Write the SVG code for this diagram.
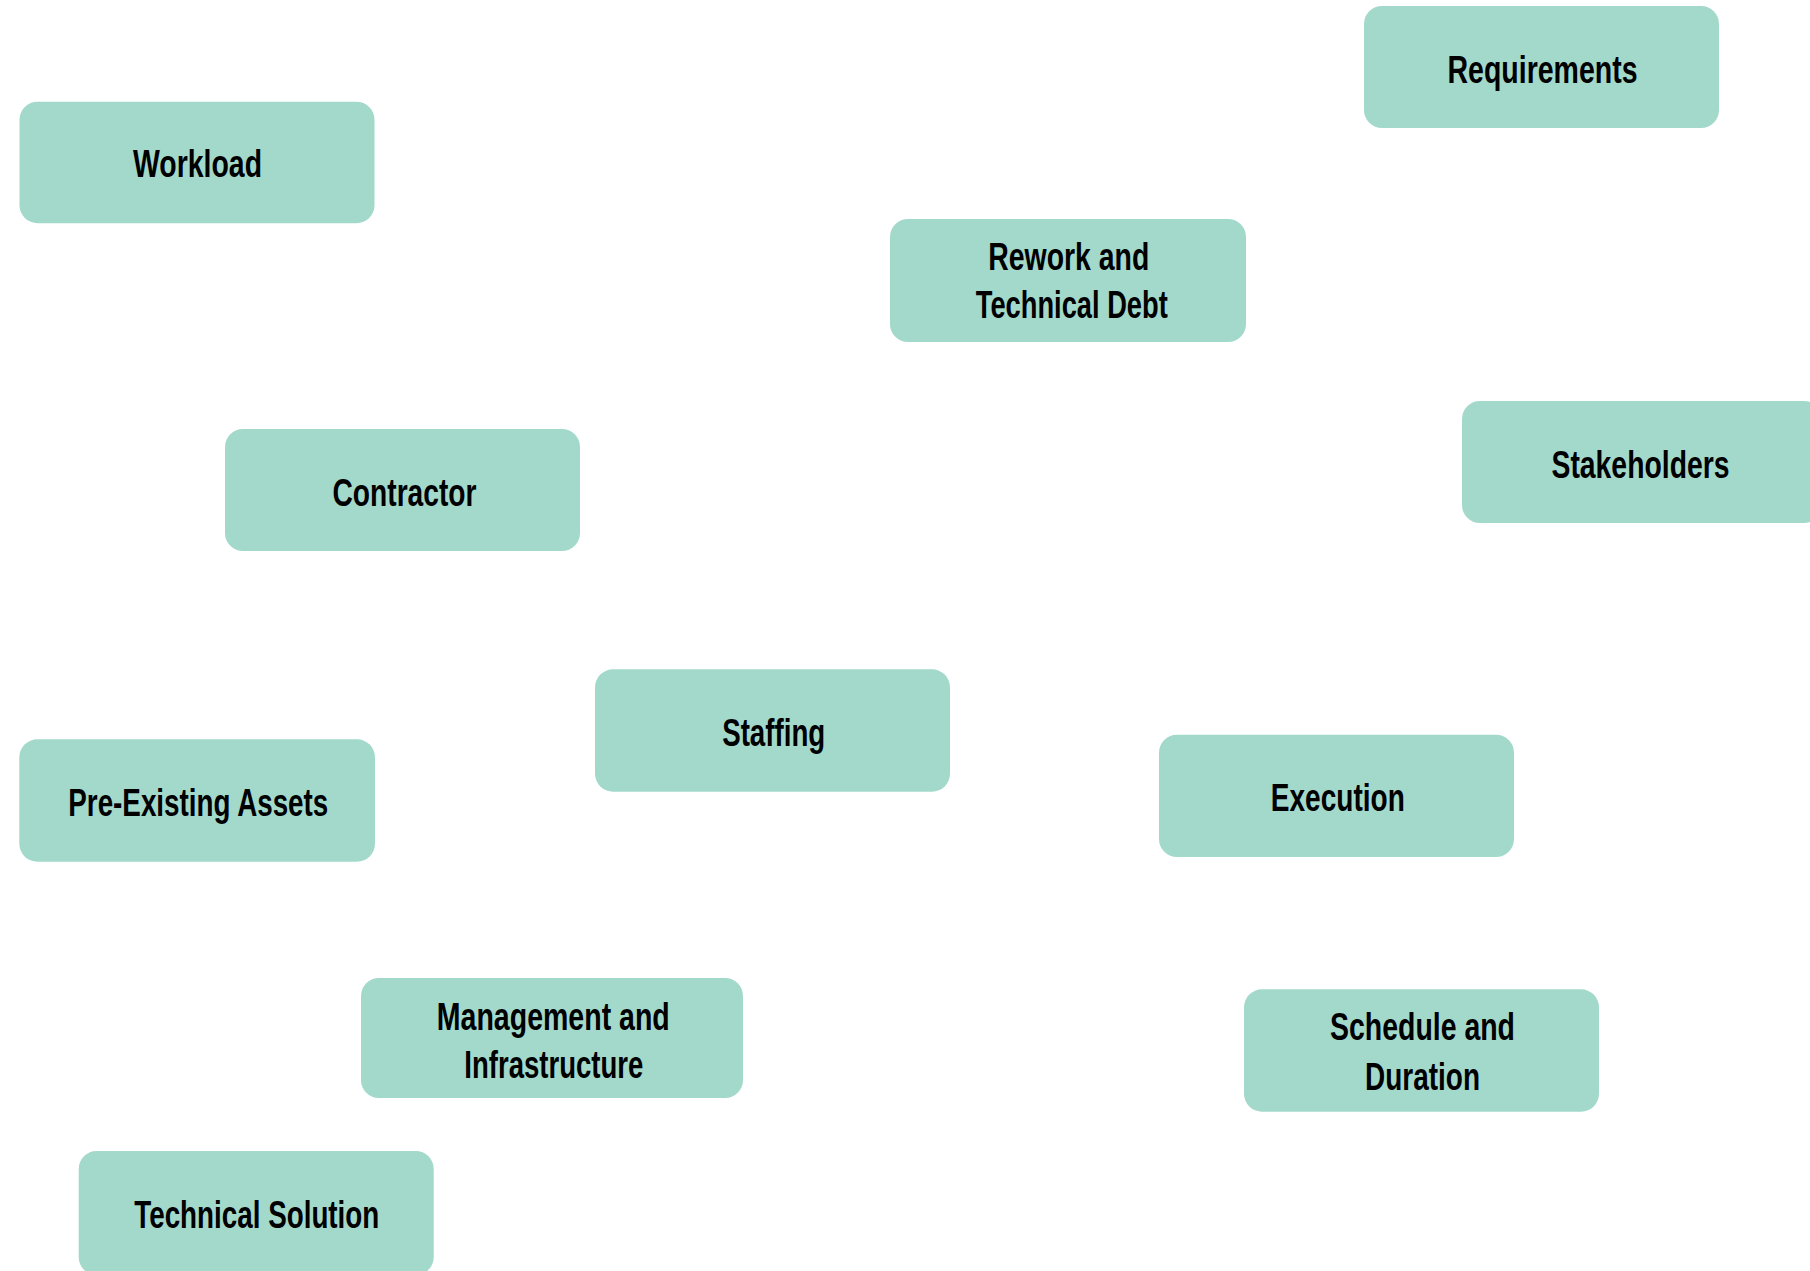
<svg xmlns="http://www.w3.org/2000/svg" width="1810" height="1271" viewBox="0 0 1810 1271">
<style>
.box{fill:#a3d9cb;}
.lbl{font-family:"Liberation Sans",Arial,sans-serif;font-weight:bold;font-size:39px;fill:#000;text-anchor:middle;}
</style>
<rect x="0" y="0" width="1810" height="1271" fill="#ffffff"/>
<g id="connectors"></g>
<g id="requirements"><rect class="box" x="1364" y="6" width="355" height="122" rx="18"/><text class="lbl" x="1542.5" y="82.7" textLength="190" lengthAdjust="spacingAndGlyphs">Requirements</text></g>
<g id="workload"><rect class="box" x="19.5" y="101.7" width="355" height="121.5" rx="18"/><text class="lbl" x="197.5" y="177.3" textLength="129" lengthAdjust="spacingAndGlyphs">Workload</text></g>
<g id="rework"><rect class="box" x="890" y="219" width="356" height="123" rx="18"/><text class="lbl" x="1068.8" y="270" textLength="161" lengthAdjust="spacingAndGlyphs">Rework and</text><text class="lbl" x="1071.8" y="318.3" textLength="192" lengthAdjust="spacingAndGlyphs">Technical Debt</text></g>
<g id="contractor"><rect class="box" x="225" y="429" width="355" height="122" rx="18"/><text class="lbl" x="404.5" y="505.7" textLength="144" lengthAdjust="spacingAndGlyphs">Contractor</text></g>
<g id="stakeholders"><rect class="box" x="1462" y="401" width="360" height="122" rx="18"/><text class="lbl" x="1640.5" y="478.3" textLength="178" lengthAdjust="spacingAndGlyphs">Stakeholders</text></g>
<g id="staffing"><rect class="box" x="595" y="669.3" width="355" height="122.4" rx="18"/><text class="lbl" x="773.7" y="745.7" textLength="103" lengthAdjust="spacingAndGlyphs">Staffing</text></g>
<g id="pre-existing-assets"><rect class="box" x="19.3" y="739.3" width="355.7" height="122.4" rx="18"/><text class="lbl" x="198.3" y="815.7" textLength="260" lengthAdjust="spacingAndGlyphs">Pre-Existing Assets</text></g>
<g id="execution"><rect class="box" x="1159" y="734.7" width="355" height="122.3" rx="18"/><text class="lbl" x="1337.8" y="811.2" textLength="134" lengthAdjust="spacingAndGlyphs">Execution</text></g>
<g id="management"><rect class="box" x="361" y="978" width="382" height="120" rx="18"/><text class="lbl" x="553.3" y="1030" textLength="233" lengthAdjust="spacingAndGlyphs">Management and</text><text class="lbl" x="553.8" y="1078.3" textLength="179" lengthAdjust="spacingAndGlyphs">Infrastructure</text></g>
<g id="schedule"><rect class="box" x="1244" y="989.3" width="355" height="122.4" rx="18"/><text class="lbl" x="1422.5" y="1040" textLength="185" lengthAdjust="spacingAndGlyphs">Schedule and</text><text class="lbl" x="1422.5" y="1090" textLength="115" lengthAdjust="spacingAndGlyphs">Duration</text></g>
<g id="technical-solution"><rect class="box" x="78.7" y="1151" width="355" height="124" rx="18"/><text class="lbl" x="256.8" y="1227.7" textLength="245" lengthAdjust="spacingAndGlyphs">Technical Solution</text></g>
</svg>
